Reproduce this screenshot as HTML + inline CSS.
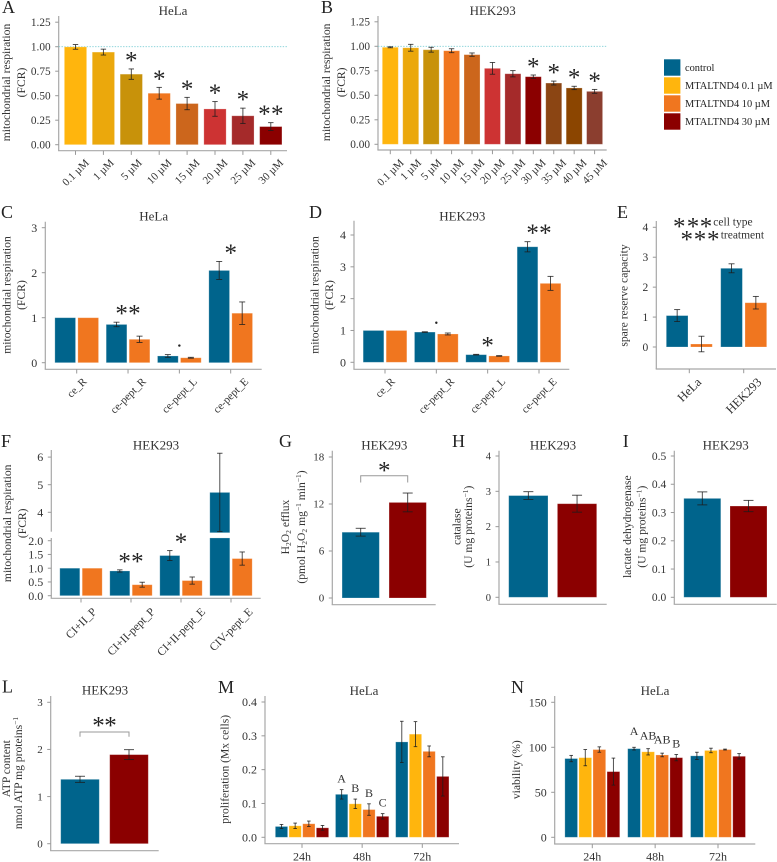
<!DOCTYPE html>
<html lang="en">
<head>
<meta charset="utf-8">
<title>Mitochondrial respiration figure</title>
<style>
html,body{margin:0;padding:0;background:#fff;}
svg{display:block;filter:blur(.3px);}
text{font-family:"Liberation Serif","DejaVu Serif",serif;fill:#333;}
.letter{font-size:18px;fill:#222;}
.title{font-size:13px;text-anchor:middle;}
.ytitle{font-size:11.6px;text-anchor:middle;}
.legend-text{font-size:10.4px;fill:#222;}
.star{font-family:"Liberation Serif",serif;font-size:25px;text-anchor:middle;fill:#222;}
.note{font-size:11.5px;}
</style>
</head>
<body>
<svg id="figure" width="777" height="862" viewBox="0 0 777 862" xmlns="http://www.w3.org/2000/svg">
  <rect width="777" height="862" fill="#fff"/>

  <g id="panel-a">
    <text class="letter" x="2" y="13">A</text>
    <text class="title" x="173" y="15">HeLa</text>
    <text class="ytitle" transform="translate(10,82.5) rotate(-90)">mitochondrial respiration</text>
    <text class="ytitle" transform="translate(25,82.5) rotate(-90)">(FCR)</text>
  </g>

  <g id="panel-b">
    <text class="letter" x="321" y="13">B</text>
    <text class="title" x="492.7" y="15">HEK293</text>
    <text class="ytitle" transform="translate(330,82.3) rotate(-90)">mitochondrial respiration</text>
    <text class="ytitle" transform="translate(345,82.3) rotate(-90)">(FCR)</text>
  </g>

  <g id="legend">
    <g>
      <rect x="664" y="59.3" width="16.4" height="16.4" fill="#00648c"/>
      <text class="legend-text" x="685" y="71">control</text>
    </g>
    <g>
      <rect x="664" y="77.3" width="16.4" height="16.4" fill="#ffb50d"/>
      <text class="legend-text" x="685" y="89">MTALTND4 0.1 µM</text>
    </g>
    <g>
      <rect x="664" y="95.3" width="16.4" height="16.4" fill="#f0761f"/>
      <text class="legend-text" x="685" y="107">MTALTND4 10 µM</text>
    </g>
    <g>
      <rect x="664" y="113.3" width="16.4" height="16.4" fill="#8b0000"/>
      <text class="legend-text" x="685" y="125">MTALTND4 30 µM</text>
    </g>
  </g>

  <g id="panel-c">
    <text class="letter" x="1" y="218">C</text>
    <text class="title" x="153.7" y="220.7">HeLa</text>
    <text class="ytitle" transform="translate(10.5,295) rotate(-90)">mitochondrial respiration</text>
    <text class="ytitle" transform="translate(25,295) rotate(-90)">(FCR)</text>
  </g>

  <g id="panel-d">
    <text class="letter" x="309" y="218">D</text>
    <text class="title" x="462.3" y="220.7">HEK293</text>
    <text class="ytitle" transform="translate(318.7,295) rotate(-90)">mitochondrial respiration</text>
    <text class="ytitle" transform="translate(333,295) rotate(-90)">(FCR)</text>
  </g>

  <g id="panel-e">
    <text class="letter" x="617" y="218">E</text>
    <text class="ytitle" transform="translate(627.5,295.5) rotate(-90)">spare reserve capacity</text>
    <g>
      <text class="star" x="679.3" y="234.5">*</text>
      <text class="star" x="693" y="234.5">*</text>
      <text class="star" x="706" y="234.5">*</text>
      <text class="note" x="713.3" y="225.5">cell type</text>
    </g>
    <g>
      <text class="star" x="686.7" y="247.5">*</text>
      <text class="star" x="700" y="247.5">*</text>
      <text class="star" x="713.3" y="247.5">*</text>
      <text class="note" x="720.7" y="238.7">treatment</text>
    </g>
  </g>

  <g id="panel-f">
    <text class="letter" x="1" y="447">F</text>
    <text class="title" x="156" y="449.3">HEK293</text>
    <text class="ytitle" transform="translate(11,523.3) rotate(-90)">mitochondrial respiration</text>
    <text class="ytitle" transform="translate(26,523.3) rotate(-90)">(FCR)</text>
  </g>

  <g id="panel-g">
    <text class="letter" x="279" y="447">G</text>
    <text class="title" x="384.3" y="449.3">HEK293</text>
    <text class="ytitle" transform="translate(289,527) rotate(-90)">H<tspan font-size="7.5" dy="2">2</tspan><tspan dy="-2">O</tspan><tspan font-size="7.5" dy="2">2</tspan><tspan dy="-2"> efflux</tspan></text>
    <text class="ytitle" transform="translate(305,527) rotate(-90)">(pmol H<tspan font-size="7.5" dy="2">2</tspan><tspan dy="-2">O</tspan><tspan font-size="7.5" dy="2">2</tspan><tspan dy="-2"> mg</tspan><tspan font-size="7.5" dy="-4">−1</tspan><tspan dy="4"> min</tspan><tspan font-size="7.5" dy="-4">−1</tspan><tspan dy="4">)</tspan></text>
  </g>

  <g id="panel-h">
    <text class="letter" x="452" y="447">H</text>
    <text class="title" x="553" y="449.3">HEK293</text>
    <text class="ytitle" transform="translate(460.5,526.7) rotate(-90)">catalase</text>
    <text class="ytitle" transform="translate(472,526.7) rotate(-90)">(U mg proteins<tspan font-size="7.5" dy="-4">−1</tspan><tspan dy="4">)</tspan></text>
  </g>

  <g id="panel-i">
    <text class="letter" x="622.7" y="447">I</text>
    <text class="title" x="725.7" y="449.3">HEK293</text>
    <text class="ytitle" transform="translate(631,526.7) rotate(-90)">lactate dehydrogenase</text>
    <text class="ytitle" transform="translate(645.5,526.7) rotate(-90)">(U mg proteins<tspan font-size="7.5" dy="-4">−1</tspan><tspan dy="4">)</tspan></text>
  </g>

  <g id="panel-l">
    <text class="letter" x="2" y="692.7">L</text>
    <text class="title" x="105" y="694.7">HEK293</text>
    <text class="ytitle" transform="translate(10,768.7) rotate(-90)">ATP content</text>
    <text class="ytitle" transform="translate(22,773) rotate(-90)">nmol ATP mg proteins<tspan font-size="7.5" dy="-4">−1</tspan></text>
  </g>

  <g id="panel-m">
    <text class="letter" x="218" y="693">M</text>
    <text class="title" x="364" y="695">HeLa</text>
    <text class="ytitle" transform="translate(228.5,769.3) rotate(-90)">proliferation (Mx cells)</text>
  </g>

  <g id="panel-n">
    <text class="letter" x="511" y="693">N</text>
    <text class="title" x="655" y="695">HeLa</text>
    <text class="ytitle" transform="translate(520,769.7) rotate(-90)">viability (%)</text>
  </g>
</svg>

<script>
// ---------- chart data ----------
const aCategories = ['0.1 µM','1 µM','5 µM','10 µM','15 µM','20 µM','25 µM','30 µM'];
const aValues = [0.998,0.945,0.72,0.525,0.42,0.365,0.295,0.185];
const aErrors = [0.024,0.03,0.053,0.06,0.063,0.075,0.078,0.04];
const aSignif = ['','','*','*','*','*','*','**'];
const abTickLabels = ['0.00','0.25','0.50','0.75','1.00','1.25'];

const bCategories = ['0.1 µM','1 µM','5 µM','10 µM','15 µM','20 µM','25 µM','30 µM','35 µM','40 µM','45 µM'];
const bValues = [0.99,0.985,0.965,0.955,0.915,0.775,0.72,0.69,0.625,0.575,0.54];
const bErrors = [0.005,0.035,0.025,0.02,0.017,0.06,0.032,0.017,0.02,0.017,0.02];
const bSignif = ['','','','','','','','*','*','*','*'];

const cdCategories = ['ce_R','ce-pept_R','ce-pept_L','ce-pept_E'];
const cControl = [1,0.85,0.15,2.05];
const cControlErr = [0,0.05,0.03,0.2];
const cTreated = [1,0.52,0.11,1.1];
const cTreatedErr = [0,0.07,0.01,0.25];
const cSignif = ['','**','•','*'];
const cTickLabels = ['0','1','2','3'];

const dControl = [1,0.95,0.24,3.63];
const dControlErr = [0,0.01,0.01,0.16];
const dTreated = [1,0.89,0.2,2.48];
const dTreatedErr = [0,0.03,0.01,0.22];
const dSignif = ['','•','*','**'];
const dTickLabels = ['0','1','2','3','4'];

const eCategories = ['HeLa','HEK293'];
const eControl = [1.05,2.63];
const eControlErr = [0.2,0.15];
const eTreated = [0.1,1.48];
const eTreatedErr = [0.26,0.21];
const eTickLabels = ['0','1','2','3','4'];

const fCategories = ['CI+II_P','CI+II-pept_P','CI+II-pept_E','CIV-pept_E'];
const fControl = [1,0.9,1.46,4.72];
const fControlErr = [0,0.04,0.18,1.42];
const fTreated = [1,0.4,0.55,1.35];
const fTreatedErr = [0,0.09,0.13,0.24];
const fSignif = ['','**','*',''];
const fTickLabels = ['0.0','0.5','1.0','1.5','2.0','4','5','6'];

const gControl = [8.4];
const gControlErr = [0.5];
const gTreated = [12.2];
const gTreatedErr = [1.2];
const gTickLabels = ['0','6','12','18'];

const hControl = [2.88];
const hControlErr = [0.11];
const hTreated = [2.65];
const hTreatedErr = [0.24];
const hTickLabels = ['0','1','2','3','4'];

const iControl = [0.35];
const iControlErr = [0.023];
const iTreated = [0.323];
const iTreatedErr = [0.02];
const iTickLabels = ['0.0','0.1','0.2','0.3','0.4','0.5'];

const lControl = [1.366];
const lControlErr = [0.065];
const lTreated = [1.89];
const lTreatedErr = [0.105];
const lTickLabels = ['0','1','2','3'];

const mnCategories = ['24h','48h','72h'];
const mControl = [0.032,0.127,0.282];
const mControlErr = [0.006,0.014,0.061];
const mLow = [0.034,0.099,0.305];
const mLowErr = [0.008,0.014,0.037];
const mMid = [0.04,0.082,0.254];
const mMidErr = [0.008,0.017,0.016];
const mHigh = [0.028,0.062,0.18];
const mHighErr = [0.007,0.008,0.058];
const mLetters = ['A','B','B','C'];
const mTickLabels = ['0.0','0.1','0.2','0.3','0.4'];

const nControl = [87.5,98.5,90.5];
const nControlErr = [3.5,1.5,4];
const nLow = [88.5,95,96.5];
const nLowErr = [9,3.5,2.5];
const nMid = [97.5,91.5,97.5];
const nMidErr = [3,2,0.5];
const nHigh = [73,88.5,90];
const nHighErr = [15,3.5,3];
const nLetters = ['A','AB','AB','B'];
const nLetterLevels = [118,113,109,104.4];
const nTickLabels = ['0','50','100','150'];

// ---------- palette ----------
const TEAL = '#00648c', YELLOW = '#ffb50d', ORANGE = '#f0761f', RED = '#8b0000';
const ramp = ['#ffb50d','#eba80c','#c8920a','#f0761f','#cc661c','#cd3333','#a52a2a','#8b0000','#8b4513','#8b4500','#8b3e2f'];
const rampA = ['#ffb50d','#eba80c','#c8920a','#f0761f','#cc661c','#cd3333','#a52a2a','#8b0000'];

// ---------- helpers ----------
const NS = 'http://www.w3.org/2000/svg';
function make(tag, parent, attrs, txt) {
  const el = document.createElementNS(NS, tag);
  for (const k in attrs) el.setAttribute(k, attrs[k]);
  if (txt !== undefined) el.textContent = txt;
  parent.appendChild(el);
  return el;
}
function linear(y0, yRef, vRef) {
  const k = (y0 - yRef) / vRef;
  return v => y0 - v * k;
}
const AXIS = '#a8a8a8', TICK = '#999';

function drawAxes(g, p) {
  const segments = p.ySegments || [[p.axisTop, p.axisY]];
  segments.forEach((s, n) => {
    const yl = make('line', g, {x1:p.axisX, x2:p.axisX, y1:s[0], y2:s[1], stroke:AXIS, 'stroke-width':1.2});
    
    
  });
  const xl = make('line', g, {x1:p.axisX - 0.6, x2:p.axisRight, y1:p.axisY, y2:p.axisY, stroke:AXIS, 'stroke-width':1.2});
  
  
  p.tickLabels.forEach(lbl => {
    const y = p.y(Number(lbl));
    const tk = make('line', g, {x1:p.axisX - 3.5, x2:p.axisX, y1:y, y2:y, stroke:TICK, 'stroke-width':1});
    
    
    const tl = make('text', g, {x:p.axisX - 8, y:y, 'text-anchor':'end', dy:'0.34em', 'font-size':p.tickFont}, lbl);
    
    
  });
}

function drawXLabels(g, p) {
  (p.categories || []).forEach((lbl, i) => {
    const x = p.x0 + p.step * i;
    const tk = make('line', g, {x1:x, x2:x, y1:p.axisY, y2:p.axisY + 4.2, stroke:TICK, 'stroke-width':1});
    
    
    const t = make('text', g, {'text-anchor':'middle', 'font-size':p.xFont}, lbl);
    
    
    if (p.xFlat) {
      t.setAttribute('x', x);
      t.setAttribute('y', p.xTop);
    } else {
      const len = t.getComputedTextLength();
      const cy = p.xTop + (len + p.xFont * 0.75) * 0.7071 / 2;
      t.setAttribute('dy', '0.33em');
      t.setAttribute('transform', 'translate(' + x + ',' + cy + ') rotate(-45)');
    }
  });
}

function barX(p, i, j) {
  return p.x0 + p.step * i + (j - (p.series.length - 1) / 2) * p.offset;
}

function drawBars(g, p) {
  p.series.forEach((s, j) => {
    s.values.forEach((v, i) => {
      const cx = barX(p, i, j);
      const fill = s.colors ? s.colors[i] : s.color;
      const rects = [];
      if (p.breakLow !== undefined && v > p.breakLow) {
        rects.push([p.y(p.breakLow), p.y(0)]);
        rects.push([p.y(v), p.y(p.breakHigh)]);
      } else {
        rects.push([Math.min(p.y(v), p.y(0)), Math.max(p.y(v), p.y(0))]);
      }
      rects.forEach((r, n) => {
        const bar = make('rect', g, {x:cx - p.barW / 2, y:r[0], width:p.barW, height:r[1] - r[0], fill:fill, stroke:'#fff', 'stroke-opacity':0.3, 'stroke-width':0.8});
        
        
      });
    });
  });
  p.series.forEach((s, j) => {
    s.values.forEach((v, i) => {
      const e = s.errors[i];
      if (!e) return;
      const cx = barX(p, i, j);
      const hi = p.y(v + e), lo = p.y(v - e);
      const eg = make('g', g, {stroke:'#1c1c1c', 'stroke-width':0.9, 'stroke-opacity':0.85});
      
      
      make('line', eg, {x1:cx, x2:cx, y1:hi, y2:lo});
      make('line', eg, {x1:cx - p.cap, x2:cx + p.cap, y1:hi, y2:hi});
      make('line', eg, {x1:cx - p.cap, x2:cx + p.cap, y1:lo, y2:lo});
    });
  });
}

function drawStar(g, x, yc, name) {
  const st = make('text', g, {'class':'star', x:x, y:yc + 11.8}, '*');
  
  
}

function drawSignif(g, p) {
  if (!p.signif) return;
  p.signif.forEach((mark, i) => {
    if (!mark) return;
    const s = p.series[0];
    const top = p.y(s.values[i] + s.errors[i]);
    const cx = p.series.length > 1 ? p.x0 + p.step * i : barX(p, i, 0);
    if (mark === '•') {
      const dot = make('circle', g, {cx:cx, cy:top - 9, r:1.2, fill:'#222'});
      
      
    } else if (mark === '*') {
      drawStar(g, cx, top - 12.4, 'significance-star-' + p.key + '-' + i);
    } else {
      drawStar(g, cx - 6.4, top - 12.4, 'significance-star-' + p.key + '-' + i + '-a');
      drawStar(g, cx + 6.4, top - 12.4, 'significance-star-' + p.key + '-' + i + '-b');
    }
  });
}

function drawBracket(g, p) {
  if (!p.bracket) return;
  const x1 = barX(p, 0, 0), x2 = barX(p, 0, 1);
  const y = p.y(p.bracket.level);
  const br = make('path', g, {d:'M' + x1 + ' ' + (y + p.bracket.drop) + 'V' + y + 'H' + x2 + 'V' + (y + p.bracket.drop), fill:'none', stroke:'#999', 'stroke-width':1});
  
  
  const mid = (x1 + x2) / 2;
  if (p.bracket.mark === '*') {
    drawStar(g, mid, y - p.bracket.gap, 'significance-star-' + p.key);
  } else {
    drawStar(g, mid - 6, y - p.bracket.gap, 'significance-star-' + p.key + '-a');
    drawStar(g, mid + 6, y - p.bracket.gap, 'significance-star-' + p.key + '-b');
  }
}

function drawLetters(g, p) {
  if (!p.letters) return;
  p.letters.forEach((lt, j) => {
    const s = p.series[j];
    const i = p.letterGroup;
    const cy = p.letterLevels ? p.y(p.letterLevels[j]) : p.y(s.values[i] + s.errors[i]) - 11;
    const t = make('text', g, {x:barX(p, i, j), y:cy, dy:'0.34em', 'text-anchor':'middle', 'font-size':12}, lt);
    
    
  });
}

function drawRefLine(g, p) {
  if (p.refLine === undefined) return;
  const y = p.y(p.refLine);
  const rl = make('line', g, {x1:p.axisX, x2:p.axisRight, y1:y, y2:y, stroke:'#7fcfd6', 'stroke-width':0.9, 'stroke-dasharray':'1.4 1.4'});
  
  
}

function drawPanel(p) {
  const g = document.getElementById('panel-' + p.key);
  drawAxes(g, p);
  drawXLabels(g, p);
  drawRefLine(g, p);
  drawBars(g, p);
  drawSignif(g, p);
  drawBracket(g, p);
  drawLetters(g, p);
}

// ---------- panels ----------
const fLinearLow = linear(595.7, 540.7, 2);
const fLinearHigh = v => 512.3 - (v - 4) * 27.6;
const fScale = v => (v <= 2.1 ? fLinearLow(v) : fLinearHigh(v));

const panels = [
  {key:'a', axisX:58.7, axisY:150.7, axisTop:16, axisRight:287, y:linear(144.7,46.7,1), tickLabels:abTickLabels, tickFont:11.3,
   categories:aCategories, x0:75.5, step:27.9, offset:0, barW:22.3, cap:2.7, xFont:11, xTop:158, refLine:1, signif:aSignif,
   series:[{name:'dose', values:aValues, errors:aErrors, colors:rampA}]},
  {key:'b', axisX:378, axisY:150, axisTop:16, axisRight:606.7, y:linear(144.3,46.3,1), tickLabels:abTickLabels, tickFont:11.3,
   categories:bCategories, x0:390.3, step:20.43, offset:0, barW:16, cap:2.7, xFont:11, xTop:158, refLine:1, signif:bSignif,
   series:[{name:'dose', values:bValues, errors:bErrors, colors:ramp}]},
  {key:'c', axisX:45.3, axisY:369.3, axisTop:221.7, axisRight:261.7, y:linear(362.7,227.7,3), tickLabels:cTickLabels, tickFont:12,
   categories:cdCategories, x0:76.7, step:51.33, offset:23, barW:20.7, cap:3, xFont:11, xTop:376.7, signif:cSignif,
   series:[{name:'control', values:cControl, errors:cControlErr, color:TEAL},{name:'treated', values:cTreated, errors:cTreatedErr, color:ORANGE}]},
  {key:'d', axisX:354, axisY:369.3, axisTop:220.7, axisRight:569.3, y:linear(362.3,235,4), tickLabels:dTickLabels, tickFont:12,
   categories:cdCategories, x0:385, step:51.33, offset:23, barW:20.7, cap:3, xFont:11, xTop:376.7, signif:dSignif,
   series:[{name:'control', values:dControl, errors:dControlErr, color:TEAL},{name:'treated', values:dTreated, errors:dTreatedErr, color:ORANGE}]},
  {key:'e', axisX:656.3, axisY:369, axisTop:221, axisRight:776, y:linear(347,227.3,4), tickLabels:eTickLabels, tickFont:11.5,
   categories:eCategories, x0:689.3, step:54.4, offset:24.3, barW:21.7, cap:3, xFont:12.5, xTop:376.7,
   series:[{name:'control', values:eControl, errors:eControlErr, color:TEAL},{name:'treated', values:eTreated, errors:eTreatedErr, color:ORANGE}]},
  {key:'f', axisX:51.3, axisY:598.3, axisTop:450, axisRight:260.7, y:fScale, tickLabels:fTickLabels, tickFont:12,
   ySegments:[[450,531.7],[538,598.3]], breakLow:2.1, breakHigh:3.26,
   categories:fCategories, x0:81, step:50, offset:22.4, barW:20, cap:2.7, xFont:11.6, xTop:606.7, signif:fSignif,
   series:[{name:'control', values:fControl, errors:fControlErr, color:TEAL},{name:'treated', values:fTreated, errors:fTreatedErr, color:ORANGE}]},
  {key:'g', axisX:332.3, axisY:604.7, axisTop:450.7, axisRight:435.7, y:linear(598,457,18), tickLabels:gTickLabels, tickFont:11,
   x0:384.2, step:0, offset:47, barW:37.3, cap:5, bracket:{level:15.6, drop:6.7, gap:9.3, mark:'*'},
   series:[{name:'control', values:gControl, errors:gControlErr, color:TEAL},{name:'treated', values:gTreated, errors:gTreatedErr, color:RED}]},
  {key:'h', axisX:499, axisY:604.3, axisTop:450.7, axisRight:606.7, y:linear(597.3,456,4), tickLabels:hTickLabels, tickFont:10.5,
   x0:552.7, step:0, offset:48.7, barW:39.3, cap:5,
   series:[{name:'control', values:hControl, errors:hControlErr, color:TEAL},{name:'treated', values:hTreated, errors:hTreatedErr, color:RED}]},
  {key:'i', axisX:674.3, axisY:604.3, axisTop:450.7, axisRight:776.7, y:linear(597.3,456,0.5), tickLabels:iTickLabels, tickFont:11.5,
   x0:725.4, step:0, offset:46.2, barW:37, cap:5,
   series:[{name:'control', values:iControl, errors:iControlErr, color:TEAL},{name:'treated', values:iTreated, errors:iTreatedErr, color:RED}]},
  {key:'l', axisX:50.7, axisY:850.7, axisTop:696, axisRight:158.7, y:linear(843.7,702.3,3), tickLabels:lTickLabels, tickFont:11,
   x0:104.5, step:0, offset:49, barW:38.6, cap:5, bracket:{level:2.37, drop:4.7, gap:10.3, mark:'**'},
   series:[{name:'control', values:lControl, errors:lControlErr, color:TEAL},{name:'treated', values:lTreated, errors:lTreatedErr, color:RED}]},
  {key:'m', axisX:265, axisY:843.7, axisTop:696, axisRight:459, y:linear(837.3,702,0.4), tickLabels:mTickLabels, tickFont:12,
   categories:mnCategories, x0:302, step:60.15, offset:13.67, barW:12.3, cap:1.8, xFont:12, xTop:860.7, xFlat:true,
   letters:mLetters, letterGroup:1,
   series:[{name:'control', values:mControl, errors:mControlErr, color:TEAL},{name:'low', values:mLow, errors:mLowErr, color:YELLOW},{name:'mid', values:mMid, errors:mMidErr, color:ORANGE},{name:'high', values:mHigh, errors:mHighErr, color:RED}]},
  {key:'n', axisX:554.7, axisY:844, axisTop:696, axisRight:755.3, y:linear(837.3,702.3,150), tickLabels:nTickLabels, tickFont:12,
   categories:mnCategories, x0:592.3, step:62.85, offset:14.07, barW:12.7, cap:1.8, xFont:12, xTop:860.7, xFlat:true,
   letters:nLetters, letterGroup:1, letterLevels:nLetterLevels,
   series:[{name:'control', values:nControl, errors:nControlErr, color:TEAL},{name:'low', values:nLow, errors:nLowErr, color:YELLOW},{name:'mid', values:nMid, errors:nMidErr, color:ORANGE},{name:'high', values:nHigh, errors:nHighErr, color:RED}]}
];
panels.forEach(drawPanel);
</script>
</body>
</html>
